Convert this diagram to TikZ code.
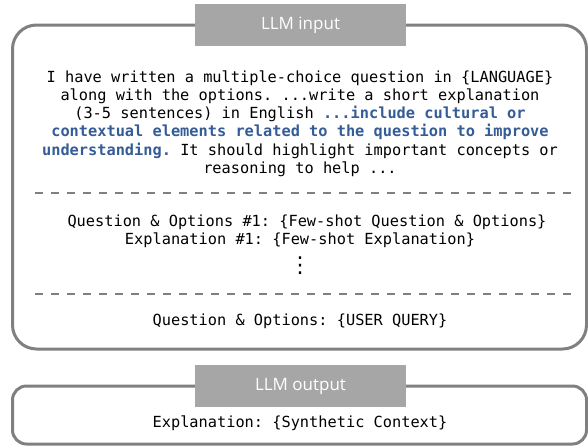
\documentclass[tikz,border=0pt]{standalone}
\usepackage{fontspec}
\setmonofont{DejaVu Sans Mono}
\setsansfont{Open Sans}
\newfontfamily\dotsfont{DejaVu Sans}
\definecolor{framegray}{RGB}{128,128,128}
\definecolor{taggray}{RGB}{166,166,166}
\definecolor{hlblue}{RGB}{52,92,150}
\newcommand{\hl}[1]{\textbf{\color{hlblue}#1}}
\frenchspacing
\begin{document}
\begin{tikzpicture}[x=1pt,y=-1pt,
  frame/.style={draw=framegray,line width=3pt},
  tag/.style={fill=taggray,text=white,minimum width=211pt,minimum height=42pt,
    inner sep=0pt,font=\sffamily\fontsize{17}{20}\selectfont},
  prompt/.style={font=\ttfamily\fontsize{15.3}{18.2}\selectfont,align=center,inner sep=0pt},
  sep/.style={draw=framegray,line width=2.5pt,dash pattern=on 8pt off 8pt}]
  \useasboundingbox (0,0) rectangle (588,445);
  \draw[frame,rounded corners=24pt] (12.5,25) rectangle (586.5,349);
  \draw[frame,rounded corners=14pt] (12.5,386) rectangle (586.5,444);
  \node[tag] (intag) at (300.5,25) {LLM input};
  \node[tag] (outtag) at (300.5,386) {LLM output};
  \node[prompt] (instr) at (300,123.5) {I have written a multiple-choice question in \{LANGUAGE\}\\
    along with the options. ...write a short explanation\\
    (3-5 sentences) in English \hl{...include cultural or}\\
    \hl{contextual elements related to the question to improve}\\
    \hl{understanding.} It should highlight important concepts or\\
    reasoning to help ...};
  \coordinate (sepa-l) at (35,193);
  \coordinate (sepa-r) at (575,193);
  \coordinate (sepb-l) at (35,294);
  \coordinate (sepb-r) at (575,294);
  \draw[sep] (sepa-l) -- (sepa-r);
  \draw[sep] (sepb-l) -- (sepb-r);
  \node[prompt] (shotq) at (307,222) {Question \& Options \#1: \{Few-shot Question \& Options\}};
  \node[prompt] (shote) at (300,240) {Explanation \#1: \{Few-shot Explanation\}};
  \node[font=\dotsfont\fontsize{22}{24}\selectfont,inner sep=0pt] (more) at (300,266) {⋮};
  \node[prompt] (query) at (300,321) {Question \& Options: \{USER QUERY\}};
  \node[prompt] (answer) at (300,423) {Explanation: \{Synthetic Context\}};
\end{tikzpicture}
\end{document}
